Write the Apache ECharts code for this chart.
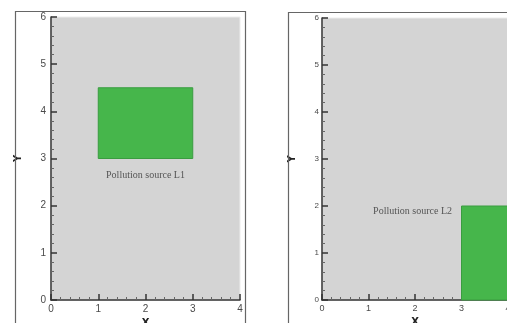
<!DOCTYPE html>
<html>
<head>
<meta charset="utf-8">
<script src="https://cdn.jsdelivr.net/npm/echarts@6/dist/echarts.min.js"></script>
<style>
  html, body { margin: 0; padding: 0; background: #fff; }
  #chart { width: 507px; height: 323px; }
</style>
</head>
<body>
<div id="chart"></div>
<script>
// Domain extents (x, y) shared by both panels
const xTicks = [0, 1, 2, 3, 4];
const yTicks = [0, 1, 2, 3, 4, 5, 6];

// Source footprints: [xStart, xEnd, yStart, yEnd]
const sourceL1 = [1, 3, 3, 4.5];
const sourceL2 = [3, 4, 0, 2];

const labelL1 = 'Pollution source L1';
const labelL2 = 'Pollution source L2';

const chart = echarts.init(document.getElementById('chart'));

const AXIS_COLOR = '#333';
const LABEL_COLOR = '#4a4a4a';

function xAxisFor(gridIndex, fontSize, nameGap) {
  return {
    type: 'value', gridIndex,
    min: xTicks[0], max: xTicks[xTicks.length - 1], interval: 1,
    name: 'X', nameLocation: 'middle', nameGap,
    nameTextStyle: { fontFamily: 'DejaVu Sans', fontWeight: 'bold', fontSize: 10, color: '#222' },
    axisLine: { show: true, onZero: false, lineStyle: { color: AXIS_COLOR, width: 1.5 } },
    axisTick: { show: true, inside: true, length: 6, lineStyle: { color: AXIS_COLOR, width: 1.5 } },
    minorTick: { show: true, splitNumber: 5, length: 3, lineStyle: { color: '#666', width: 1 } },
    axisLabel: { fontFamily: 'Liberation Sans', fontSize, color: LABEL_COLOR, margin: 4, showMaxLabel: true },
    splitLine: { show: false }
  };
}

function yAxisFor(gridIndex, fontSize, nameGap, margin) {
  return {
    type: 'value', gridIndex,
    min: yTicks[0], max: yTicks[yTicks.length - 1], interval: 1,
    name: 'Y', nameLocation: 'middle', nameGap, nameRotate: 90,
    nameTextStyle: { fontFamily: 'DejaVu Sans', fontWeight: 'bold', fontSize: 10, color: '#222' },
    axisLine: { show: true, onZero: false, lineStyle: { color: AXIS_COLOR, width: 1.5 } },
    axisTick: { show: true, inside: true, length: 6, lineStyle: { color: AXIS_COLOR, width: 1.5 } },
    minorTick: { show: true, splitNumber: 5, length: 3, lineStyle: { color: '#666', width: 1 } },
    axisLabel: { fontFamily: 'Liberation Sans', fontSize, color: LABEL_COLOR, margin },
    splitLine: { show: false }
  };
}

// Draws a source footprint as a filled rectangle in data coordinates, with its caption
function makeSourceRenderer(text, textConfig, textStyle) {
  return function (params, api) {
    const topLeft = api.coord([api.value(0), api.value(3)]);
    const bottomRight = api.coord([api.value(1), api.value(2)]);
    return {
      type: 'rect',
      shape: {
        x: topLeft[0], y: topLeft[1],
        width: bottomRight[0] - topLeft[0],
        height: bottomRight[1] - topLeft[1]
      },
      style: { fill: '#46b64b', stroke: '#3a9c40', lineWidth: 1 },
      textContent: {
        style: Object.assign({
          text,
          fill: '#555',
          fontFamily: 'Liberation Serif',
          fontSize: 10
        }, textStyle)
      },
      textConfig
    };
  };
}

chart.setOption({
  animation: false,
  backgroundColor: '#fff',
  grid: [
    { left: 51, top: 17, width: 189, height: 283, show: true, outerBoundsMode: 'none',
      backgroundColor: '#d4d4d4', borderColor: '#ececec', borderWidth: 1 },
    { left: 322, top: 18, width: 186, height: 282, show: true, outerBoundsMode: 'none',
      backgroundColor: '#d4d4d4', borderColor: '#ececec', borderWidth: 1 }
  ],
  xAxis: [xAxisFor(0, 10, 17), xAxisFor(1, 9, 17)],
  yAxis: [yAxisFor(0, 10, 28, 5), yAxisFor(1, 8, 25, 3)],
  graphic: [
    // panel frames
    { type: 'polyline', z: 100, silent: true,
      shape: { points: [[15.5, 330], [15.5, 11.5], [245.5, 11.5], [245.5, 330]] },
      style: { fill: null, stroke: '#666', lineWidth: 1.2 } },
    { type: 'polyline', z: 100, silent: true,
      shape: { points: [[288.5, 330], [288.5, 12.5], [520, 12.5]] },
      style: { fill: null, stroke: '#666', lineWidth: 1.2 } }
  ],
  series: [
    {
      type: 'custom', xAxisIndex: 0, yAxisIndex: 0,
      renderItem: makeSourceRenderer(labelL1,
        { position: 'bottom', distance: 11 },
        { align: 'center' }),
      data: [sourceL1]
    },
    {
      type: 'custom', xAxisIndex: 1, yAxisIndex: 1,
      renderItem: makeSourceRenderer(labelL2,
        { position: [-9, 6] },
        { align: 'right', verticalAlign: 'middle' }),
      data: [sourceL2]
    }
  ]
});
</script>
</body>
</html>
